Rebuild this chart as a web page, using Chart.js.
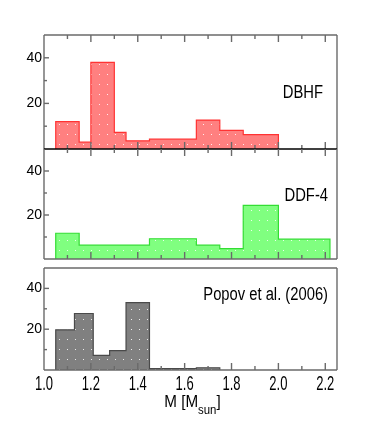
<!DOCTYPE html>
<html>
<head>
<meta charset="utf-8">
<script src="https://cdn.jsdelivr.net/npm/chart.js@4.4.1/dist/chart.umd.min.js"></script>
<style>
  html, body { margin: 0; padding: 0; background: #fff; }
  #wrap { position: relative; width: 382px; height: 436px; }
  canvas { position: absolute; left: 0; }
</style>
</head>
<body>
<div id="wrap">
  <canvas id="dbhf" width="382" height="152" style="top:0px"></canvas>
  <canvas id="ddf" width="382" height="116" style="top:146px"></canvas>
  <canvas id="popov" width="382" height="171" style="top:265px"></canvas>
</div>
<script>
// bin edges (M_sun) and counts
const dbhfEdges = [1.05, 1.15, 1.20, 1.30, 1.35, 1.45, 1.65, 1.75, 1.85, 2.00];
const dbhfCounts = [12, 3, 38, 7.3, 3.6, 4.3, 12.7, 8.2, 6.3];

const ddfEdges = [1.05, 1.15, 1.45, 1.65, 1.75, 1.85, 2.00, 2.22];
const ddfCounts = [11.7, 6.3, 9.2, 6.3, 4.7, 24.4, 9.0];

const popovEdges = [1.05, 1.13, 1.21, 1.28, 1.35, 1.45, 1.65, 1.75];
const popovCounts = [19.7, 27.7, 7.2, 9.5, 33, 0.7, 1.1];

const xTicks = [1.0, 1.2, 1.4, 1.6, 1.8, 2.0, 2.2];
const xTickMarks = [1.1, 1.2, 1.3, 1.4, 1.5, 1.6, 1.7, 1.8, 1.9, 2.0, 2.1, 2.2];
const yTicks = [20, 40];
const yTickMarks = [10, 20, 30, 40];

const FONT = '"Liberation Sans", Arial, sans-serif';

// step outline for a histogram: start at 0, one point per bin, close back to 0
function histPoints(edges, counts) {
  const pts = [{ x: edges[0], y: 0 }];
  counts.forEach((c, i) => pts.push({ x: edges[i], y: c }));
  pts.push({ x: edges[edges.length - 1], y: 0 });
  return pts;
}

function dotPattern(color) {
  const c = document.createElement("canvas");
  c.width = 8;
  c.height = 10;
  const g = c.getContext("2d");
  g.fillStyle = color;
  g.fillRect(0, 0, 8, 10);
  g.fillStyle = "rgba(255,255,255,0.85)";
  g.fillRect(3, 4, 1, 1);
  return g.createPattern(c, "repeat");
}

// condensed text (the original uses a narrow Helvetica)
function narrowText(ctx, s, x, y, size, sx, align) {
  ctx.save();
  ctx.font = size + "px " + FONT;
  ctx.translate(x, y);
  ctx.scale(sx, 1);
  ctx.textAlign = align;
  ctx.textBaseline = "alphabetic";
  ctx.fillText(s, 0, 0);
  ctx.restore();
}

function narrowWidth(ctx, s, size, sx) {
  ctx.font = size + "px " + FONT;
  return ctx.measureText(s).width * sx;
}

const framePlugin = {
  id: "frame",
  afterDatasetsDraw(chart, args, opts) {
    const { ctx, chartArea: a, scales: { x, y } } = chart;
    ctx.save();
    ctx.lineWidth = 1.4;
    ctx.strokeStyle = "#6a6a6a";
    const seg = (x1, y1, x2, y2) => {
      ctx.beginPath();
      ctx.moveTo(x1, y1);
      ctx.lineTo(x2, y2);
      ctx.stroke();
    };
    xTickMarks.forEach((v) => {
      const px = x.getPixelForValue(v);
      const len = Math.round(v * 10) % 2 === 0 ? 7 : 4;
      if (opts.topTicks) seg(px, a.top, px, a.top + len);
      if (opts.bottomTicks) seg(px, a.bottom, px, a.bottom - len);
    });
    yTickMarks.forEach((v) => {
      const py = y.getPixelForValue(v);
      const len = v % 20 === 0 ? 5 : 3;
      seg(a.left, py, a.left + len, py);
    });
    seg(a.left, a.top, a.left, a.bottom);
    seg(a.right, a.top, a.right, a.bottom);
    if (opts.topLine) seg(a.left, a.top, a.right, a.top);
    ctx.strokeStyle = opts.bottomColor;
    ctx.lineWidth = 1.6;
    seg(a.left, a.bottom, a.right, a.bottom);

    ctx.fillStyle = "#000";
    narrowText(ctx, opts.label, a.right - opts.labelDx, a.top + opts.labelDy, 18, 0.82, "right");

    if (opts.xLabels) {
      xTicks.forEach((v) => {
        narrowText(ctx, v.toFixed(1), x.getPixelForValue(v), a.bottom + 20, 21, 0.62, "center");
      });
      const cx = (a.left + a.right) / 2 + 2;
      const base = a.bottom + 37;
      const w1 = narrowWidth(ctx, "M [M", 16, 0.95);
      const w2 = narrowWidth(ctx, "sun", 12, 0.95);
      const w3 = narrowWidth(ctx, "]", 16, 0.95);
      let sx = cx - (w1 + w2 + w3) / 2;
      narrowText(ctx, "M [M", sx, base, 16, 0.95, "left");
      sx += w1;
      narrowText(ctx, "sun", sx, base + 7, 12, 0.95, "left");
      sx += w2;
      narrowText(ctx, "]", sx, base, 16, 0.95, "left");
    }
    ctx.restore();
  },
};

function makePanel(id, edges, counts, fill, stroke, frame, pad) {
  return new Chart(document.getElementById(id), {
    type: "line",
    data: {
      datasets: [
        {
          data: histPoints(edges, counts),
          stepped: true,
          fill: "origin",
          backgroundColor: dotPattern(fill),
          borderColor: stroke,
          borderWidth: 1.2,
          pointRadius: 0,
        },
      ],
    },
    options: {
      responsive: false,
      animation: false,
      events: [],
      layout: { padding: pad },
      plugins: { legend: { display: false }, tooltip: { enabled: false }, frame: frame },
      scales: {
        x: {
          type: "linear",
          min: 1.0,
          max: 2.25,
          display: false,
          afterBuildTicks: (s) => { s.ticks = xTicks.map((v) => ({ value: v })); },
        },
        y: {
          type: "linear",
          min: 0,
          max: 50,
          grid: { display: false, drawTicks: false },
          border: { display: false },
          afterBuildTicks: (s) => { s.ticks = yTicks.map((v) => ({ value: v })); },
          afterFit: (s) => { s.width = 44; s.paddingTop = 0; s.paddingBottom = 0; },
          ticks: {
            color: "#000",
            padding: 2,
            font: { family: FONT, size: 14 },
          },
        },
      },
    },
    plugins: [framePlugin],
  });
}

makePanel("dbhf", dbhfEdges, dbhfCounts, "#ff8080", "#ff3333",
  { topTicks: true, bottomTicks: true, topLine: true, bottomColor: "#000", label: "DBHF", labelDx: 14, labelDy: 63 },
  { top: 35, bottom: 3, right: 45, left: 0 });

makePanel("ddf", ddfEdges, ddfCounts, "#80ff80", "#33dd33",
  { topTicks: true, bottomTicks: true, topLine: false, bottomColor: "#6a6a6a", label: "DDF-4", labelDx: 9, labelDy: 52 },
  { top: 3, bottom: 3, right: 45, left: 0 });

makePanel("popov", popovEdges, popovCounts, "#808080", "#4a4a4a",
  { topTicks: false, bottomTicks: true, topLine: true, bottomColor: "#6a6a6a", label: "Popov et al. (2006)", labelDx: 9, labelDy: 32, xLabels: true },
  { top: 3, bottom: 66, right: 45, left: 0 });
</script>
</body>
</html>
